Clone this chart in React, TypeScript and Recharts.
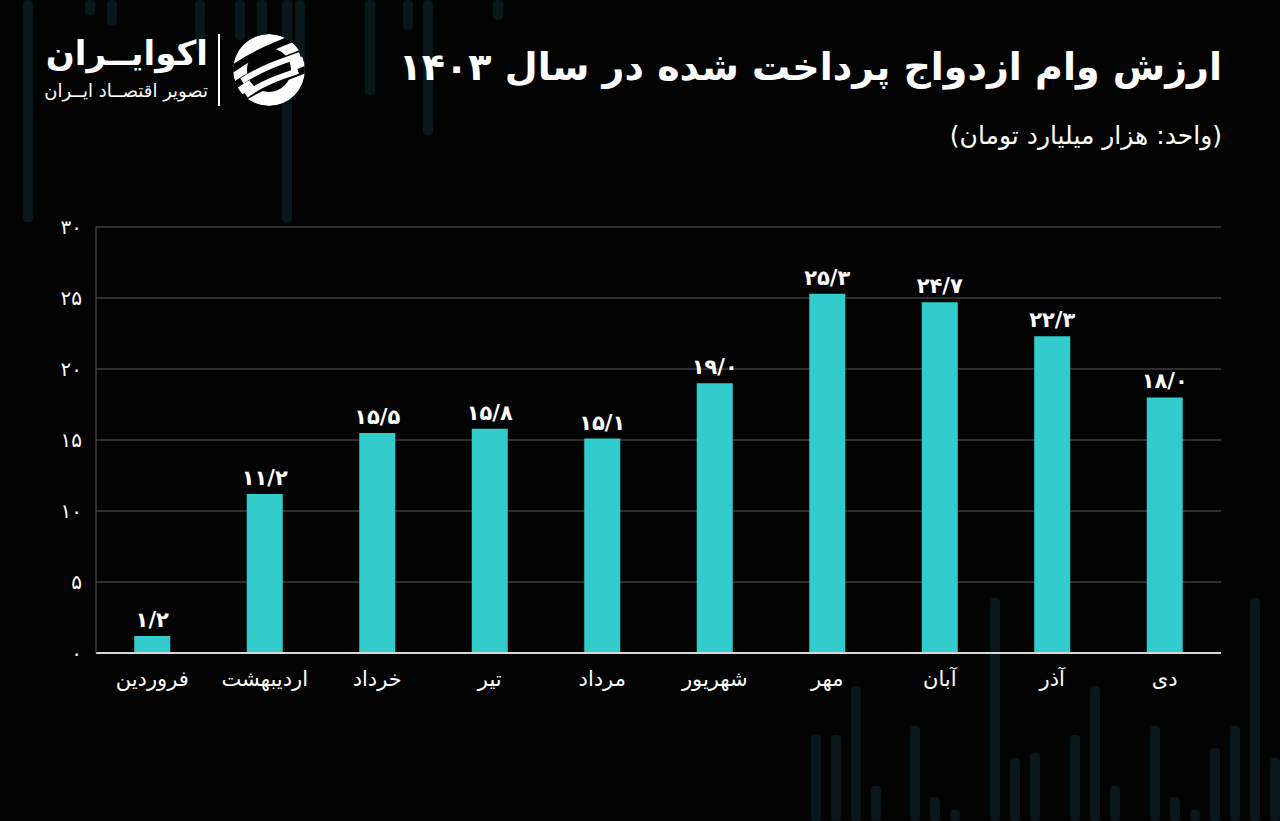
import React from "react";
import { BarChart, Bar, XAxis, YAxis, CartesianGrid, LabelList } from "recharts";

const months = ["فروردین", "اردیبهشت", "خرداد", "تیر", "مرداد", "شهریور", "مهر", "آبان", "آذر", "دی"];
const loanValues = [1.2, 11.2, 15.5, 15.8, 15.1, 19.0, 25.3, 24.7, 22.3, 18.0];
const yTicks = [0, 5, 10, 15, 20, 25, 30];

const title = "ارزش وام ازدواج پرداخت شده در سال ۱۴۰۳";
const subtitle = "(واحد: هزار میلیارد تومان)";

// faint decorative background stripes: [x, top, bottom]
const bgTop = [[28, 0, 222], [90, 0, 15], [112, 0, 25], [200, 0, 50], [240, 0, 40], [262, 0, 60], [287, 0, 222], [300, 0, 70], [370, 0, 95], [408, 0, 30], [428, 0, 135], [498, 0, 20]];
const bgBottom = [[816, 735, 821], [836, 735, 821], [856, 686, 821], [876, 786, 821], [915, 726, 821], [935, 797, 821], [955, 810, 821], [995, 598, 821], [1015, 758, 821], [1035, 753, 821], [1075, 735, 821], [1095, 686, 821], [1115, 786, 821], [1155, 726, 821], [1175, 797, 821], [1195, 810, 821], [1215, 748, 821], [1235, 726, 821], [1255, 598, 821], [1275, 758, 821]];

const fa = (s: string) => s.replace(/\d/g, (d) => "۰۱۲۳۴۵۶۷۸۹"[Number(d)]);
const fmtTick = (v: number) => fa(String(v));
const fmtValue = (v: number) => fa(v.toFixed(1)).replace(".", "/");

const data = months.map((m, i) => ({ month: m, value: loanValues[i] }));

const FONT = "'DejaVu Sans', sans-serif";

const Logo = () => (
  <div style={{ position: "absolute", left: 40, top: 30, width: 270, height: 80 }}>
    <div dir="rtl" style={{ position: "absolute", right: 102, top: 0, fontFamily: FONT, fontWeight: 700, fontSize: 34, color: "#fff", whiteSpace: "nowrap", lineHeight: "46px" }}>
      اکوایــران
    </div>
    <div dir="rtl" style={{ position: "absolute", right: 102, top: 49, fontFamily: FONT, fontSize: 18, color: "#fff", whiteSpace: "nowrap", lineHeight: "24px" }}>
      تصویر اقتصــاد ایــران
    </div>
    <div style={{ position: "absolute", left: 178, top: 4, width: 2, height: 72, background: "#fff" }} />
    <svg style={{ position: "absolute", left: 192, top: 3 }} width={74} height={74} viewBox="0 0 74 74">
      <defs>
        <clipPath id="lc">
          <circle cx={37} cy={37} r={36} />
        </clipPath>
      </defs>
      <g clipPath="url(#lc)">
        <circle cx={37} cy={37} r={36} fill="#fff" />
        <path d="M-5 40 C 20 20, 50 10, 80 -2" stroke="#030303" strokeWidth={7} fill="none" />
        <path d="M-5 58 C 20 38, 50 28, 80 16" stroke="#030303" strokeWidth={7} fill="none" />
        <path d="M-5 76 C 20 56, 50 46, 80 34" stroke="#030303" strokeWidth={7} fill="none" />
        <circle cx={37} cy={37} r={22} fill="#030303" />
        <path d="M10 48 C 28 36, 45 30, 68 22" stroke="#fff" strokeWidth={6} fill="none" />
        <path d="M14 62 C 30 50, 48 44, 66 38" stroke="#fff" strokeWidth={6} fill="none" />
      </g>
    </svg>
  </div>
);

export default function App() {
  return (
    <div style={{ position: "fixed", left: 0, top: 0, width: 1280, height: 821, background: "#030303", overflow: "hidden" }}>
      <svg style={{ position: "absolute", left: 0, top: 0 }} width={1280} height={821}>
        {[...bgTop, ...bgBottom].map(([x, y1, y2], i) => (
          <rect key={i} x={x - 5} y={y1} width={10} height={y2 - y1} rx={4} fill="#08181d" />
        ))}
      </svg>
      <Logo />
      <div dir="rtl" style={{ position: "absolute", right: 58, top: 38, fontFamily: FONT, fontWeight: 700, fontSize: 38, color: "#fff", whiteSpace: "nowrap", lineHeight: "58px" }}>
        {title}
      </div>
      <div dir="rtl" style={{ position: "absolute", right: 58, top: 117, fontFamily: FONT, fontSize: 25, color: "#fff", whiteSpace: "nowrap", lineHeight: "38px" }}>
        {subtitle}
      </div>
      <div style={{ position: "absolute", left: 0, top: 0 }}>
        <BarChart width={1280} height={821} data={data} margin={{ top: 227, right: 59, bottom: 128, left: 56 }} barCategoryGap="34%">
          <CartesianGrid vertical={false} stroke="#5a5a5a" strokeWidth={1} />
          <XAxis
            dataKey="month"
            height={40}
            axisLine={{ stroke: "#d8d8d8", strokeWidth: 2 }}
            tickLine={false}
            tickMargin={12}
            tick={{ fill: "#fff", fontSize: 21, fontFamily: FONT }}
          />
          <YAxis
            width={40}
            domain={[0, 30]}
            ticks={yTicks}
            tickFormatter={fmtTick}
            axisLine={{ stroke: "#5a5a5a" }}
            tickLine={false}
            tickMargin={8}
            tick={{ fill: "#fff", fontSize: 20, fontFamily: FONT }}
          />
          <YAxis yAxisId="r" orientation="right" width={0} domain={[0, 30]} axisLine={{ stroke: "#5a5a5a" }} tick={false} tickLine={false} />
          <Bar dataKey="value" fill="#33cccc" isAnimationActive={false}>
            <LabelList dataKey="value" position="top" offset={9} formatter={fmtValue} fill="#fff" fontSize={21} fontWeight={700} fontFamily={FONT} />
          </Bar>
        </BarChart>
      </div>
    </div>
  );
}
